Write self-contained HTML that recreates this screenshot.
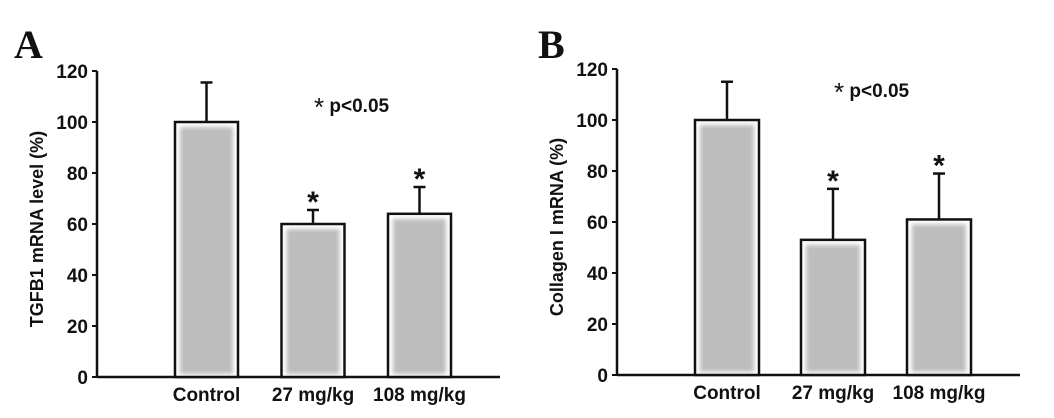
<!DOCTYPE html>
<html><head><meta charset="utf-8"><style>
body{margin:0;background:#fff;width:1054px;height:413px;overflow:hidden}
svg text{font-family:"Liberation Sans",Arial,sans-serif;font-weight:bold;fill:#111}
</style></head><body>
<svg id="c" width="1054" height="413" xmlns="http://www.w3.org/2000/svg">
<defs><filter id="blur"><feGaussianBlur stdDeviation="2"/></filter></defs>
</svg>
<script>
const categories=["Control","27 mg/kg","108 mg/kg"];
const valuesA=[100,60,64];
const errTopA=[115.5,65.5,74.5];
const sigA=[false,true,true];
const valuesB=[100,53,61];
const errTopB=[115,73,79];
const sigB=[false,true,true];
const ticks=[0,20,40,60,80,100,120];
const svg=document.getElementById('c');
const NS="http://www.w3.org/2000/svg";
function el(t,a,p){const e=document.createElementNS(NS,t);for(const k in a)e.setAttribute(k,a[k]);(p||svg).appendChild(e);return e;}
function panel(cfg){
  const g=el('g',{});
  
  
  const y=v=>cfg.y0-(cfg.y0-cfg.y120)*v/120;
  const ax=el('line',{x1:cfg.ax,y1:cfg.y120,x2:cfg.ax,y2:cfg.y0+1,stroke:'#111','stroke-width':2.5},g);
  
  const xa=el('line',{x1:cfg.ax,y1:cfg.y0,x2:cfg.xEnd,y2:cfg.y0,stroke:'#111','stroke-width':2.5},g);
  
  ticks.forEach(t=>{
    el('line',{x1:cfg.ax-5,y1:y(t),x2:cfg.ax,y2:y(t),stroke:'#111','stroke-width':2},g);
    const tx=el('text',{x:cfg.ax-9,y:y(t)+7,'text-anchor':'end','font-size':19},g);
    tx.textContent=t;
    
  });
  categories.forEach((c,i)=>{
    const x=cfg.bx0+i*cfg.step, w=cfg.bw, v=cfg.vals[i], e=cfg.errs[i];
    const el1=el('line',{x1:x+w/2,y1:y(e),x2:x+w/2,y2:y(v),stroke:'#111','stroke-width':2.5},g);
    
    el('line',{x1:x+w/2-6,y1:y(e),x2:x+w/2+6,y2:y(e),stroke:'#111','stroke-width':2.5},g);
    el('rect',{x:x,y:y(v),width:w,height:y(0)-y(v),fill:'#fff'},g);
    el('rect',{x:x+5,y:y(v)+5,width:w-10,height:y(0)-y(v)-8,fill:'#bdbdbd',filter:'url(#blur)'},g);
    const r=el('rect',{x:x,y:y(v),width:w,height:y(0)-y(v),fill:'none',stroke:'#111','stroke-width':2.5},g);
    
    if(cfg.sig[i]){const s=el('text',{x:x+w/2,y:y(e)+2,'text-anchor':'middle','font-size':30,'font-weight':'normal'},g);s.textContent='*';
      }
    const l=el('text',{x:x+w/2,y:cfg.y0+24,'text-anchor':'middle','font-size':19},g);l.textContent=c;
    
  });
  const t=el('text',{transform:`translate(${cfg.titleX},${(cfg.y0+cfg.y120)/2+5}) rotate(-90)`,'text-anchor':'middle','font-size':18},g);
  t.textContent=cfg.title;
  const p=el('text',{x:cfg.px,y:cfg.py,'font-size':19},g);
  const ps=el('tspan',{'font-size':26,'font-weight':'normal',dy:4},p);ps.textContent='*';
  const pt=el('tspan',{dy:-4},p);pt.textContent=' p<0.05';
  
  const L=el('text',{x:cfg.lx,y:58,'font-size':40,style:'font-family:"Liberation Serif",serif'},g);L.textContent=cfg.letter;
  
}
panel({name:'panel-a',ax:97,y0:377,y120:71,xEnd:500,bx0:175,step:106.5,bw:63,vals:valuesA,errs:errTopA,sig:sigA,title:'TGFB1 mRNA level (%)',titleX:43,px:314,py:112,lx:14,letter:'A'});
panel({name:'panel-b',ax:617,y0:375,y120:69,xEnd:1020,bx0:695,step:106,bw:64,vals:valuesB,errs:errTopB,sig:sigB,title:'Collagen I mRNA (%)',titleX:563,px:834,py:97,lx:538,letter:'B'});
</script>
</body></html>
